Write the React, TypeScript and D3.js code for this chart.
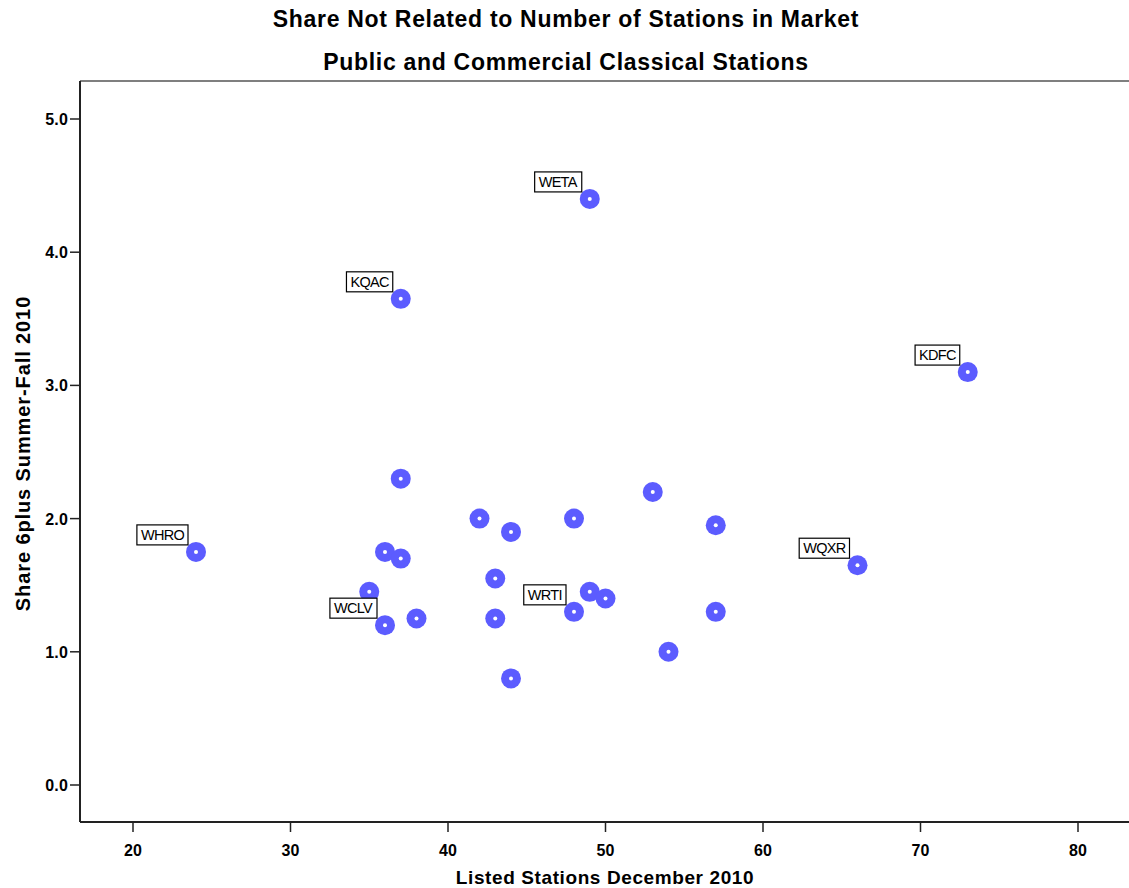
import React from "react";
import * as d3 from "d3";

const listedStations = [49, 37, 73, 37, 53, 42, 48, 44, 57, 24, 36, 37, 66, 43, 35, 49, 50, 48, 57, 36, 38, 43, 54, 44];
const share6plus = [4.4, 3.65, 3.1, 2.3, 2.2, 2.0, 2.0, 1.9, 1.95, 1.75, 1.75, 1.7, 1.65, 1.55, 1.45, 1.45, 1.4, 1.3, 1.3, 1.2, 1.25, 1.25, 1.0, 0.8];
const callLetters = ["WETA", "KQAC", "KDFC", "", "", "", "", "", "", "WHRO", "", "", "WQXR", "", "", "", "", "WRTI", "", "WCLV", "", "", "", ""];
const xTicks = [20, 30, 40, 50, 60, 70, 80];
const yTicks = [0, 1, 2, 3, 4, 5];

const W = 1129;
const H = 888;
const left = 80;
const top = 81;
const bottom = 822;

const charW: Record<string, number> = {
  W: 0.944, E: 0.667, T: 0.611, A: 0.667, K: 0.667, Q: 0.778, C: 0.722, D: 0.722,
  F: 0.611, H: 0.722, R: 0.722, O: 0.778, X: 0.667, I: 0.278, L: 0.556, V: 0.667,
};
const labelFont = 14.5;
const labelSpacing = -0.7;
function labelWidth(s: string) {
  let w = 0;
  for (const c of s) w += (charW[c] ?? 0.667) * labelFont + labelSpacing;
  return w;
}

export default function App() {
  const x = d3.scaleLinear().domain([20, 80]).range([133, 1078]);
  const y = d3.scaleLinear().domain([0, 5]).range([785, 119]);
  const font = "'Liberation Sans', Arial, sans-serif";
  const pts = listedStations.map((v, i) => ({ x: v, y: share6plus[i], label: callLetters[i] }));
  return (
    <svg width={W} height={H} style={{ position: "absolute", left: 0, top: 0, background: "#fff" }} fontFamily={font}>
      <rect x={0} y={0} width={W} height={H} fill="#fff" />
      <text x={566} y={27} textAnchor="middle" fontSize={23} letterSpacing={0.7} fontWeight="bold" fill="#000">Share Not Related to Number of Stations in Market</text>
      <text x={566} y={70} textAnchor="middle" fontSize={23} letterSpacing={0.7} fontWeight="bold" fill="#000">Public and Commercial Classical Stations</text>
      <line x1={left} x2={W} y1={top} y2={top} stroke="#555" strokeWidth={1.5} />
      <line x1={left} x2={left} y1={top} y2={bottom} stroke="#222" strokeWidth={2} />
      <line x1={left} x2={W} y1={bottom} y2={bottom} stroke="#222" strokeWidth={2} />
      {xTicks.map((t) => (
        <g key={"x" + t}>
          <line x1={x(t)} x2={x(t)} y1={bottom} y2={bottom + 10} stroke="#222" strokeWidth={1.5} />
          <text x={x(t)} y={bottom + 34} textAnchor="middle" fontSize={16} letterSpacing={0.2} fontWeight="bold" fill="#000">{t}</text>
        </g>
      ))}
      {yTicks.map((t) => (
        <g key={"y" + t}>
          <line x1={left - 10} x2={left} y1={y(t)} y2={y(t)} stroke="#222" strokeWidth={1.5} />
          <text x={left - 12} y={y(t) + 6} textAnchor="end" fontSize={16} letterSpacing={0.2} fontWeight="bold" fill="#000">{t.toFixed(1)}</text>
        </g>
      ))}
      <text x={605} y={884} textAnchor="middle" fontSize={19} letterSpacing={0.6} fontWeight="bold" fill="#000">Listed Stations December 2010</text>
      <text transform={`translate(30,${(top + bottom) / 2 + 2}) rotate(-90)`} textAnchor="middle" fontSize={20} letterSpacing={0.9} fontWeight="bold" fill="#000">Share 6plus Summer-Fall 2010</text>
      {pts.map((p, i) => (
        <g key={"p" + i}>
          <circle cx={x(p.x)} cy={y(p.y)} r={10} fill="#5c5cff" />
          <circle cx={x(p.x)} cy={y(p.y)} r={2} fill="#fff" />
        </g>
      ))}
      {pts.filter((p) => p.label).map((p, i) => {
        const w = labelWidth(p.label) + 8;
        const bx = x(p.x) - 8 - w;
        const by = y(p.y) - 7 - 20;
        return (
          <g key={"l" + i}>
            <rect x={bx} y={by} width={w} height={20} fill="#fff" stroke="#000" strokeWidth={1.2} />
            <text x={bx + 4} y={by + 15} fontSize={labelFont} letterSpacing={labelSpacing} fill="#000">{p.label}</text>
          </g>
        );
      })}
    </svg>
  );
}
